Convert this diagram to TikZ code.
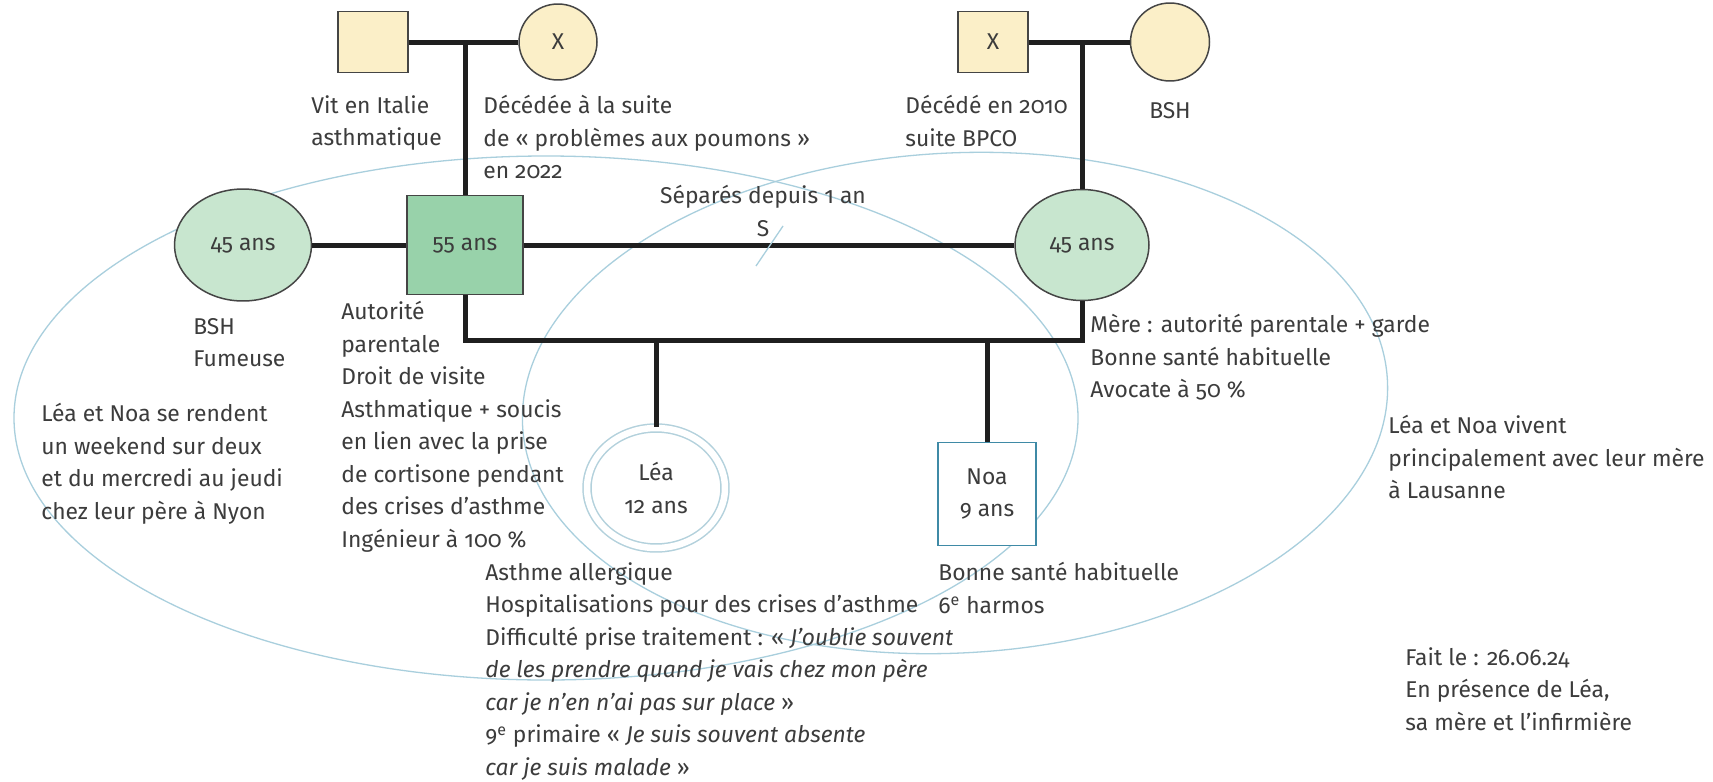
\documentclass[tikz,border=0pt]{standalone}
\usepackage{fontspec}
\setmainfont{Fira Sans}[Numbers=OldStyle]
\usetikzlibrary{shapes.geometric,calc}
\definecolor{cream}{HTML}{FBEFC8}
\definecolor{palegreen}{HTML}{C8E6CF}
\definecolor{midgreen}{HTML}{98D2AA}
\definecolor{outline}{HTML}{454545}
\definecolor{hhblue}{HTML}{A9CFDD}
\definecolor{ringblue}{HTML}{B3D1DC}
\definecolor{boyblue}{HTML}{3F8AA6}
\definecolor{textgray}{HTML}{3C3C3C}
\newcommand{\genofont}{\fontsize{13}{18.5}\selectfont}

\begin{document}
\begin{tikzpicture}[x=0.02cm, y=-0.02cm,
    every node/.style={font=\genofont, text=textgray},
    person/.style={draw=outline, line width=0.03cm, inner sep=0pt},
    male/.style={person, rectangle},
    female/.style={person, ellipse},
    note/.style={align=left, anchor=north west, inner sep=0pt, execute at begin node=\strut},
    link/.style={line width=0.1cm, draw=black!88},
    household/.style={draw=hhblue, line width=0.026cm}]
    \fill[white] (0,0) rectangle (1713,781);
    \useasboundingbox (0,0) rectangle (1713,781);
    % Households
    \draw[household] (546,418) ellipse [x radius=532, y radius=262];
    \draw[household, rotate around={3:(955,403)}] (955,403) ellipse [x radius=433, y radius=250];
    % Grandparents
    \node[male, fill=cream, minimum width=1.4cm, minimum height=1.22cm] (gpP) at (373,42) {};
    \node[female, fill=cream, minimum width=1.56cm, minimum height=1.52cm] (gmP) at (558,42) {X};
    \node[male, fill=cream, minimum width=1.4cm, minimum height=1.22cm] (gpM) at (993,42) {X};
    \node[female, fill=cream, minimum width=1.58cm, minimum height=1.56cm] (gmM) at (1170,42) {};
    % Parents
    \node[female, fill=palegreen, minimum width=2.74cm, minimum height=2.24cm] (wife) at (243,245) {45 ans};
    \node[male, fill=midgreen, minimum width=2.32cm, minimum height=1.98cm] (father) at (465,245) {55 ans};
    \node[female, fill=palegreen, minimum width=2.68cm, minimum height=2.22cm] (mother) at (1082,245) {45 ans};
    % Children
    \node[female, draw=ringblue, double=white, double distance=0.13cm, fill=white,
          minimum width=2.76cm, minimum height=2.4cm, align=center] (lea) at (656,488) {Léa\\12 ans};
    \node[male, draw=boyblue, fill=white, minimum width=1.96cm, minimum height=2.06cm,
          align=center] (noa) at (987,494) {Noa\\9 ans};
    % Links
    \draw[link] (gpP) -- (gmP);
    \draw[link] (gpM) -- (gmM);
    \draw[link] (father.north |- gpP.east) -- (father.north);
    \draw[link] (mother.north |- gpM.east) -- (mother.north);
    \draw[link] (wife) -- (father);
    \draw[link] (father) -- (mother);
    \coordinate (kids) at (0,340);
    \draw[link] (father.south) -- (father.south |- kids) -- (mother.south |- kids) -- (mother.south);
    \draw[link] (lea.north |- kids) -- (lea.north);
    \draw[link] (noa.north |- kids) -- (noa.north);
    % Separation
    \coordinate (sep) at ($(father.east)!0.5!(mother.west)$);
    \draw[household] ([shift={(-13,21)}]sep) -- ([shift={(14,-19)}]sep);
    \node[note, anchor=north, align=center] (sepnote) at (763,185) {Séparés depuis 1 an\\S};
    % Notes
    \node[note] (gpPnote) at (311,95) {Vit en Italie\\asthmatique};
    \node[note] (gmPnote) at (483,95) {Décédée à la suite\\de « problèmes aux poumons »\\en 2022};
    \node[note] (gpMnote) at (905,95) {Décédé en 2010\\suite BPCO};
    \node[note, anchor=north] (gmMnote) at (1170,95) {BSH};
    \node[note] (wifenote) at (193,318) {BSH\\Fumeuse};
    \node[note] (fathernote) at (341,301) {Autorité\\parentale\\Droit de visite\\Asthmatique + soucis\\en lien avec la prise\\de cortisone pendant\\des crises d’asthme\\Ingénieur à 100~\%};
    \node[note] (mothernote) at (1090,314) {Mère : autorité parentale + garde\\Bonne santé habituelle\\Avocate à 50~\%};
    \node[note] (leanote) at (485,562) {Asthme allergique\\Hospitalisations pour des crises d’asthme\\Difficulté prise traitement : « \textit{J’oublie souvent}\\\textit{de les prendre quand je vais chez mon père}\\\textit{car je n’en n’ai pas sur place} »\\9\textsuperscript{e} primaire « \textit{Je suis souvent absente}\\\textit{car je suis malade} »};
    \node[note] (noanote) at (938,562) {Bonne santé habituelle\\6\textsuperscript{e} harmos};
    \node[note] (dadhome) at (41,403) {Léa et Noa se rendent\\un weekend sur deux\\et du mercredi au jeudi\\chez leur père à Nyon};
    \node[note] (mumhome) at (1388,415) {Léa et Noa vivent\\principalement avec leur mère\\à Lausanne};
    \node[note] (madeon) at (1405,647) {Fait le : 26.06.24\\En présence de Léa,\\sa mère et l’infirmière};
\end{tikzpicture}
\end{document}
